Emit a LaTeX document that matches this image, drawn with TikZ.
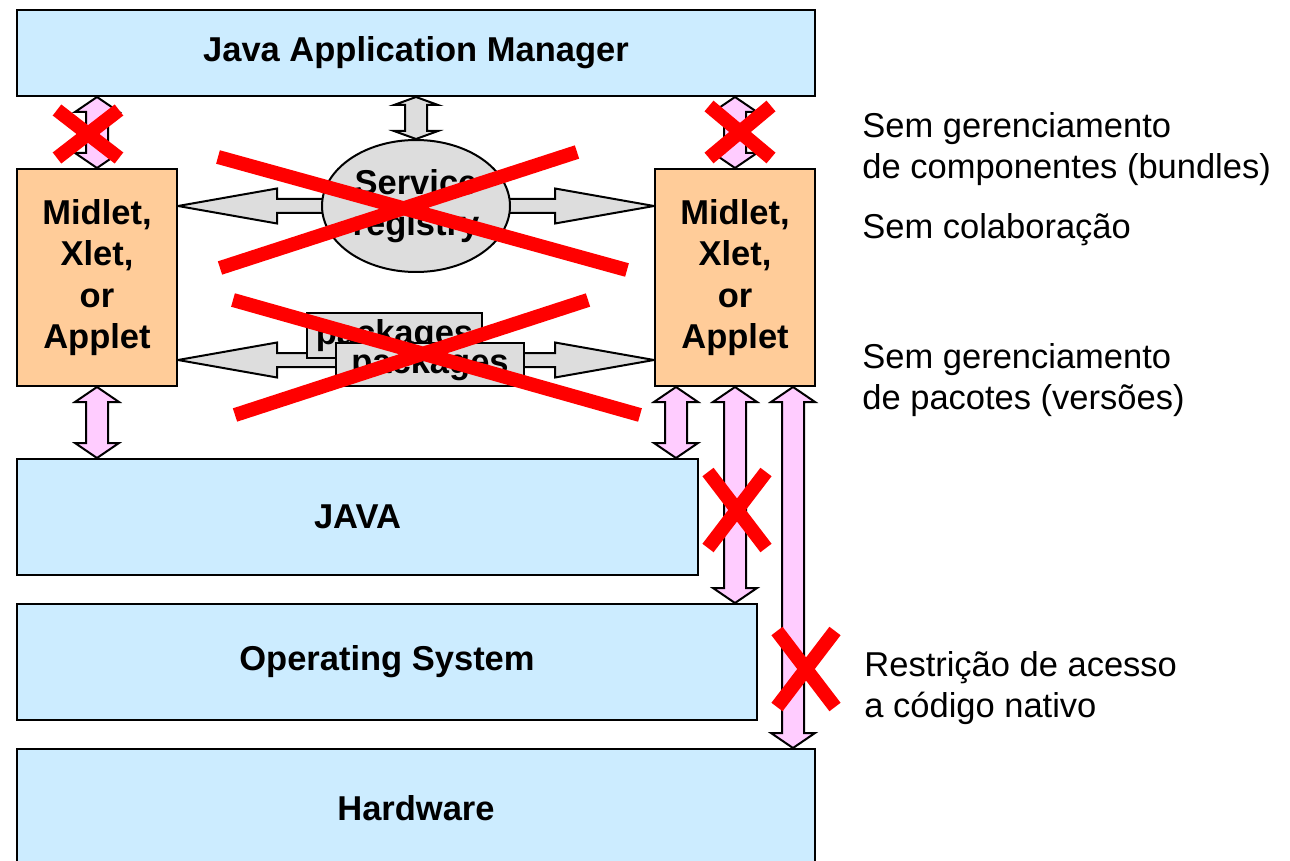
\documentclass[tikz,border=0pt]{standalone}
\usepackage{fontspec}
\setmainfont{Liberation Sans}
\usetikzlibrary{positioning,calc,shapes.geometric,backgrounds}

\definecolor{layerblue}{HTML}{CCECFF}
\definecolor{appor}{HTML}{FFCC99}
\definecolor{linkpink}{HTML}{FFCCFF}
\definecolor{regray}{HTML}{DDDDDD}

\tikzset{
  layer/.style={draw, line width=1pt, fill=layerblue, inner sep=0pt, font=\bfseries},
  app/.style={draw, line width=1pt, fill=appor, inner sep=0pt, align=center, font=\bfseries},
  greybox/.style={draw, line width=1pt, fill=regray, inner sep=0pt, align=center, font=\bfseries},
  note/.style={anchor=west, align=left, inner sep=0pt},
  pinkarrow/.style={draw, line width=1pt, fill=linkpink},
  grayarrow/.style={draw, line width=1pt, fill=regray},
  nope/.style={draw=red, line width=7pt},
}

% fat double arrow: from, to, shaft half width, head half width, head length
\newcommand\dblarrow[6][]{%
  \path[#1] (#2) -- ($(#2)!#6!(#3)!#5!90:(#3)$) -- ($(#2)!#6!(#3)!#4!90:(#3)$)
    -- ($(#3)!#6!(#2)!#4!-90:(#2)$) -- ($(#3)!#6!(#2)!#5!-90:(#2)$) -- (#3)
    -- ($(#3)!#6!(#2)!#5!90:(#2)$) -- ($(#3)!#6!(#2)!#4!90:(#2)$)
    -- ($(#2)!#6!(#3)!#4!-90:(#3)$) -- ($(#2)!#6!(#3)!#5!-90:(#3)$) -- cycle;}
% fat single arrow: tip, tail, shaft half width, head half width, head length
\newcommand\sglarrow[6][]{%
  \path[#1] (#2) -- ($(#2)!#6!(#3)!#5!90:(#3)$) -- ($(#2)!#6!(#3)!#4!90:(#3)$)
    -- ($(#3)!#4!-90:(#2)$) -- ($(#3)!#4!90:(#2)$)
    -- ($(#2)!#6!(#3)!#4!-90:(#3)$) -- ($(#2)!#6!(#3)!#5!-90:(#3)$) -- cycle;}

\begin{document}
\fontsize{17.25pt}{20.75pt}\selectfont
\begin{tikzpicture}[x=0.5pt, y=-0.5pt]
    \path[use as bounding box, clip] (0,0) rectangle (1290,861);
    % layers
    \node[layer, minimum width=399pt, minimum height=43pt] (jam) at (416,53) {Java Application Manager};
    \node[layer, minimum width=340.5pt, minimum height=58pt] (java) at (357.5,517) {JAVA};
    \node[layer, minimum width=370pt, minimum height=58pt] (os) at (387,662) {Operating System};
    \node[layer, minimum width=399pt, minimum height=59pt] (hw) at (416,808) {Hardware};
    % applications
    \node[app, minimum width=80pt, minimum height=108.5pt] (lapp) at (97,277.5) {Midlet,\\Xlet,\\or\\Applet};
    \node[app, minimum width=80pt, minimum height=108.5pt] (rapp) at (735,277.5) {Midlet,\\Xlet,\\or\\Applet};
    % registry and packages
    \node[greybox, ellipse, minimum width=94pt, minimum height=66pt] (reg) at (416,206) {Service\\registry};
    \node[greybox, minimum width=87.5pt, minimum height=22.5pt] (pk1) at (394.5,335.5) {packages};
    \node[greybox, minimum width=94pt, minimum height=21.5pt] (pk2) at (430,364.5) {packages};
    \coordinate (pkg) at (416,360);

    \begin{scope}[on background layer]
        \coordinate (lreg) at (lapp.east |- reg.center);
        \coordinate (rreg) at (rapp.west |- reg.center);
        \coordinate (lpkg) at (lapp.east |- pkg);
        \coordinate (rpkg) at (rapp.west |- pkg);
        \foreach \tip/\tail in {lreg/reg.center, rreg/reg.center, lpkg/pkg, rpkg/pkg}
            \sglarrow[grayarrow]{\tip}{\tail}{3.5pt}{8.75pt}{49.5pt};
    \end{scope}
    \dblarrow[grayarrow]{jam.south}{reg.north}{5.5pt}{11pt}{4pt}

    % links between layers
    \coordinate (lup) at (lapp.north |- jam.south);
    \coordinate (rup) at (rapp.north |- jam.south);
    \coordinate (ldn) at (lapp.south |- java.north);
    \coordinate (r1) at ($(rapp.south west)+(22,0)$);
    \coordinate (r2) at (rapp.south);
    \coordinate (r3) at ($(rapp.south east)+(-23,0)$);
    \coordinate (r1-end) at (r1 |- java.north);
    \coordinate (r2-end) at (r2 |- os.north);
    \coordinate (r3-end) at (r3 |- hw.north);
    \dblarrow[pinkarrow]{lapp.north}{lup}{5.5pt}{11pt}{7.5pt}
    \dblarrow[pinkarrow]{rapp.north}{rup}{5.5pt}{11pt}{7.5pt}
    \dblarrow[pinkarrow]{lapp.south}{ldn}{5.5pt}{11pt}{7.5pt}
    \foreach \src in {r1,r2,r3}
        \dblarrow[pinkarrow]{\src}{\src-end}{5.5pt}{11pt}{7.5pt};

    % crossed out
    \draw[nope] (218,157) -- (627,270) (220,268) -- (577,152);
    \draw[nope] (233,300) -- (640,415) (235,415) -- (588,300);
    \foreach \cx/\cy/\dx/\dy in {88/134/31/24, 740/132/31/26, 737/510/29/38, 806/669/29/38}
        \draw[nope] (\cx-\dx,\cy-\dy) -- (\cx+\dx,\cy+\dy) (\cx-\dx,\cy+\dy) -- (\cx+\dx,\cy-\dy);

    % remarks
    \node[note] (n1) at (862,149) {Sem gerenciamento\\de componentes (bundles)};
    \node[note] (n2) at (862,230) {Sem colaboração};
    \node[note] (n3) at (862,380) {Sem gerenciamento\\de pacotes (versões)};
    \node[note] (n4) at (864,688) {Restrição de acesso\\a código nativo};
\end{tikzpicture}
\end{document}
